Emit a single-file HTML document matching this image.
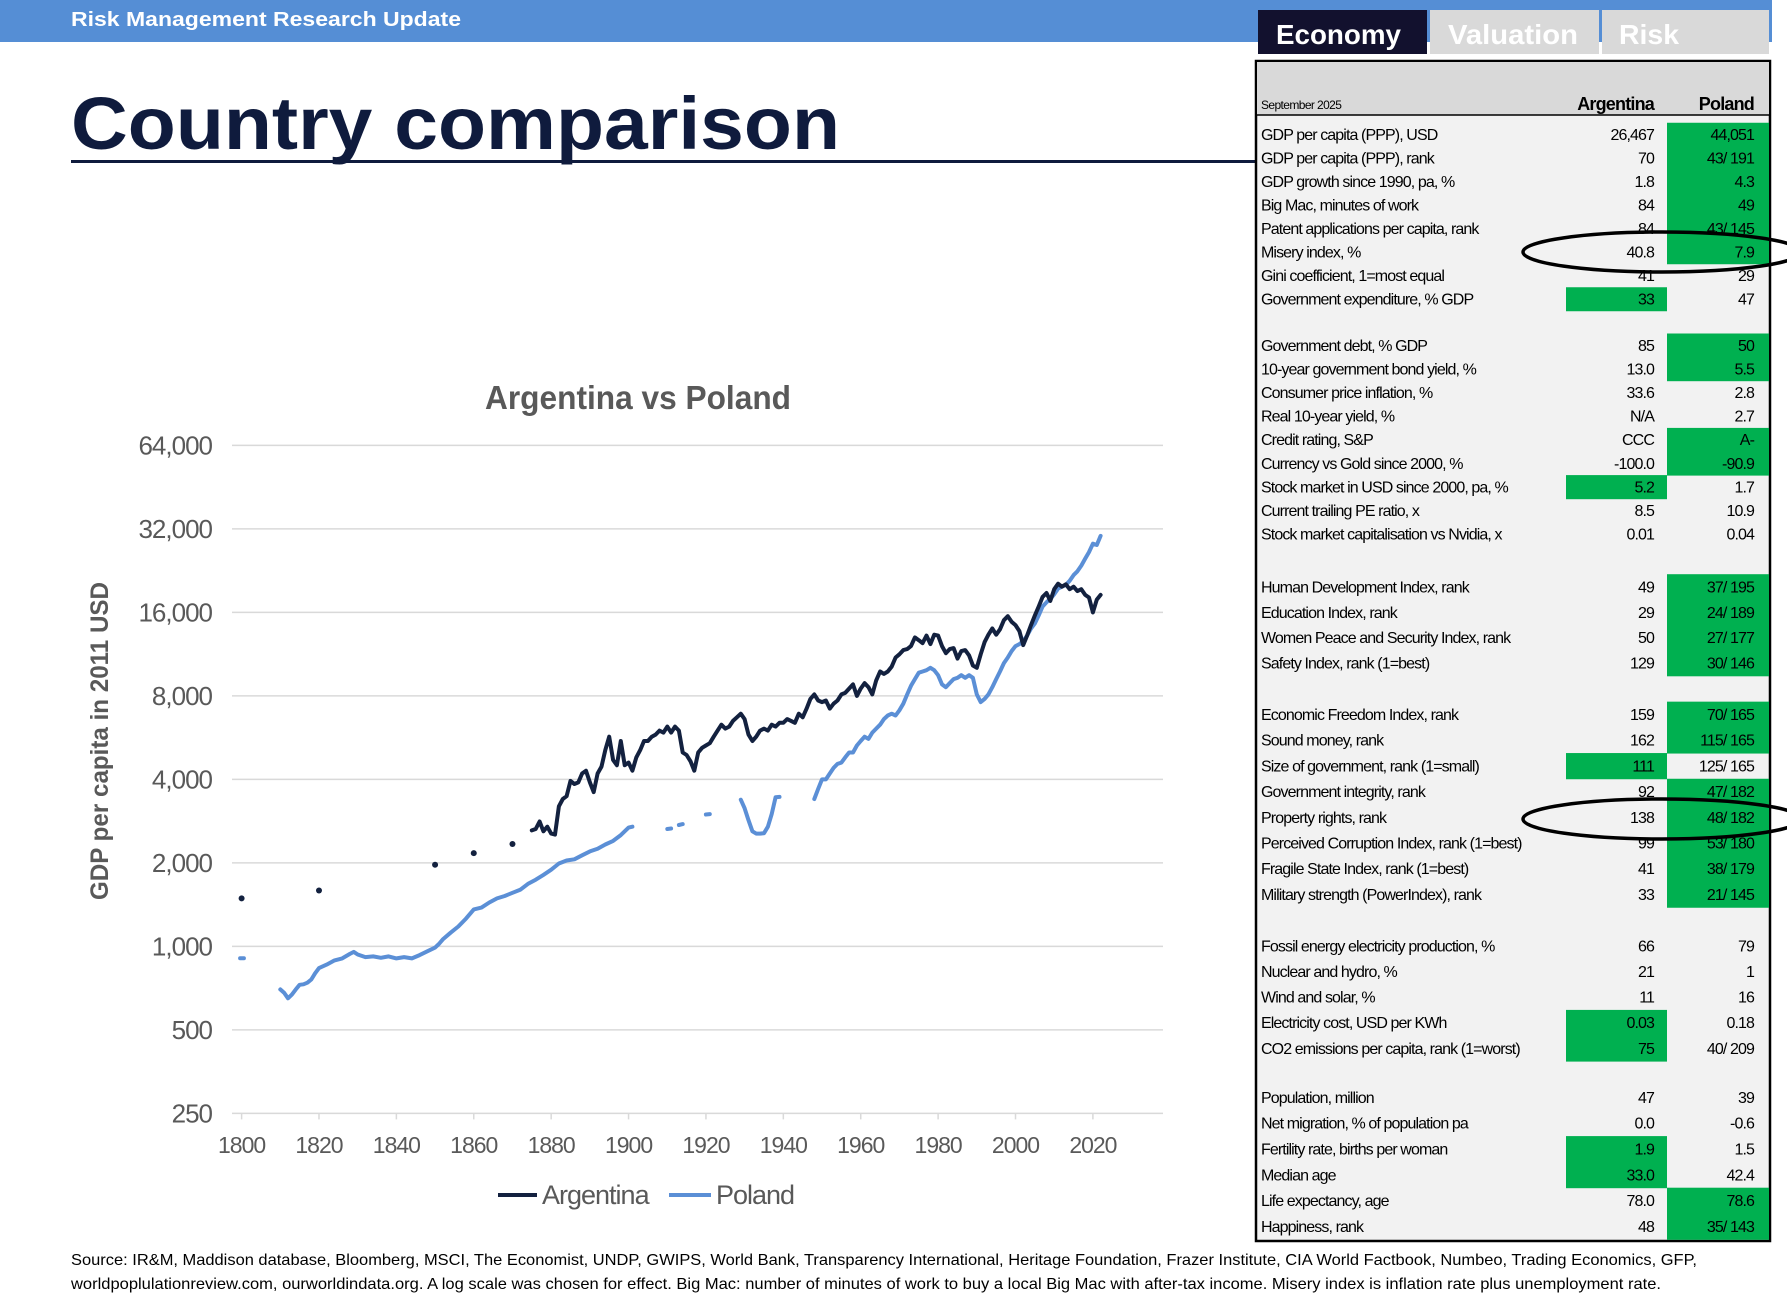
<!DOCTYPE html>
<html><head><meta charset="utf-8"><style>
html,body{margin:0;padding:0;background:#fff;}
svg{display:block;font-family:"Liberation Sans",sans-serif;}
</style></head><body>
<svg id="page" width="1787" height="1305" viewBox="0 0 1787 1305">
<rect x="0" y="0" width="1772" height="42" fill="#558ED5"/>
<text x="71" y="26" font-size="20" font-weight="bold" fill="#fff" textLength="390" lengthAdjust="spacingAndGlyphs">Risk Management Research Update</text>
<text x="71" y="149" font-size="74" font-weight="bold" fill="#0F1B3D" textLength="769" lengthAdjust="spacingAndGlyphs">Country comparison</text>
<rect x="71" y="160" width="1186" height="3" fill="#0F1B3D"/>
<g>
<rect x="1258" y="10" width="169" height="44" fill="#12112E"/>
<text x="1276" y="44" font-size="28" font-weight="bold" fill="#fff" textLength="125" lengthAdjust="spacingAndGlyphs">Economy</text>
<rect x="1430" y="10" width="169" height="44" fill="#D9D9D9"/>
<text x="1448" y="44" font-size="28" font-weight="bold" fill="#fff" textLength="130" lengthAdjust="spacingAndGlyphs">Valuation</text>
<rect x="1602" y="10" width="167" height="44" fill="#D9D9D9"/>
<text x="1619" y="44" font-size="28" font-weight="bold" fill="#fff" textLength="60" lengthAdjust="spacingAndGlyphs">Risk</text>
</g>
<g id="table">
<rect x="1256" y="61" width="514" height="1180" fill="#F2F2F2" stroke="#000" stroke-width="2.5"/>
<rect x="1257" y="62" width="512" height="53" fill="#D9D9D9"/>
<line x1="1257" y1="115" x2="1769" y2="115" stroke="#000" stroke-width="1.5"/>
<text x="1261" y="109" font-size="12" fill="#000" letter-spacing="-0.6">September 2025</text>
<text x="1654" y="110" font-size="18" font-weight="bold" text-anchor="end" letter-spacing="-0.8">Argentina</text>
<text x="1754" y="110" font-size="18" font-weight="bold" text-anchor="end" letter-spacing="-0.8">Poland</text>
</g>
<g id="chart">
<text x="638" y="409" font-size="33" font-weight="bold" fill="#595959" text-anchor="middle" textLength="306" lengthAdjust="spacingAndGlyphs">Argentina vs Poland</text>
<text transform="translate(108,741) rotate(-90)" font-size="25" font-weight="bold" fill="#595959" text-anchor="middle" textLength="318" lengthAdjust="spacingAndGlyphs">GDP per capita in 2011 USD</text>
<g id="grid"></g><g id="marks"></g>
<g>
<line x1="498" y1="1195" x2="537" y2="1195" stroke="#13213F" stroke-width="4"/>
<text x="542" y="1204" font-size="27" fill="#595959" letter-spacing="-1">Argentina</text>
<line x1="669" y1="1195" x2="711" y2="1195" stroke="#5B8FD6" stroke-width="4"/>
<text x="716" y="1204" font-size="27" fill="#595959" letter-spacing="-1">Poland</text>
</g>
</g>
<g>
<ellipse cx="1662" cy="252" rx="139" ry="20" fill="none" stroke="#000" stroke-width="3.5"/>
<ellipse cx="1662" cy="819" rx="139" ry="20" fill="none" stroke="#000" stroke-width="3.5"/>
</g>
<text x="71" y="1265" font-size="16" fill="#000" textLength="1626" lengthAdjust="spacingAndGlyphs">Source: IR&amp;M, Maddison database, Bloomberg, MSCI, The Economist, UNDP, GWIPS, World Bank, Transparency International, Heritage Foundation, Frazer Institute, CIA World Factbook, Numbeo, Trading Economics, GFP,</text>
<text x="71" y="1289" font-size="16" fill="#000" textLength="1590" lengthAdjust="spacingAndGlyphs">worldpoplulationreview.com, ourworldindata.org. A log scale was chosen for effect. Big Mac: number of minutes of work to buy a local Big Mac with after-tax income. Misery index is inflation rate plus unemployment rate.</text>
</svg>
<script>
const NS="http://www.w3.org/2000/svg";
const yTicks=[250,500,1000,2000,4000,8000,16000,32000,64000];
const yTickLabels=["250","500","1,000","2,000","4,000","8,000","16,000","32,000","64,000"];
const xTicks=[1800,1820,1840,1860,1880,1900,1920,1940,1960,1980,2000,2020];
const argYears=[1800,0,1820,0,1850,0,1860,0,1870,0,1875,1876,1877,1878,1879,1880,1881,1882,1883,1884,1885,1886,1887,1888,1889,1890,1891,1892,1893,1894,1895,1896,1897,1898,1899,1900,1901,1902,1903,1904,1905,1906,1907,1908,1909,1910,1911,1912,1913,1914,1915,1916,1917,1918,1919,1920,1921,1922,1923,1924,1925,1926,1927,1928,1929,1930,1931,1932,1933,1934,1935,1936,1937,1938,1939,1940,1941,1942,1943,1944,1945,1946,1947,1948,1949,1950,1951,1952,1953,1954,1955,1956,1957,1958,1959,1960,1961,1962,1963,1964,1965,1966,1967,1968,1969,1970,1971,1972,1973,1974,1975,1976,1977,1978,1979,1980,1981,1982,1983,1984,1985,1986,1987,1988,1989,1990,1991,1992,1993,1994,1995,1996,1997,1998,1999,2000,2001,2002,2003,2004,2005,2006,2007,2008,2009,2010,2011,2012,2013,2014,2015,2016,2017,2018,2019,2020,2021,2022];
const argValues=[1490,null,1590,null,1970,null,2170,null,2340,null,2620,2650,2820,2600,2700,2550,2530,3200,3400,3480,3950,3850,3900,4200,4300,3900,3600,4200,4450,5100,5700,4700,4500,5500,4500,4600,4300,4800,5100,5500,5500,5700,5800,6000,5900,6200,5900,6200,6000,5000,4900,4650,4300,5000,5200,5300,5400,5700,6000,6300,6100,6200,6500,6700,6900,6600,5800,5500,5700,6000,6100,6000,6300,6200,6400,6400,6600,6500,6400,6900,6700,7200,7800,8100,7700,7600,7700,7200,7500,7700,8100,8200,8500,8800,8000,8500,8900,8600,8100,9100,9800,9600,9800,10200,11000,11300,11700,11800,12100,13000,12700,12400,13200,12300,13300,13200,12100,11400,11800,11900,10900,11600,11700,11200,10300,10100,11300,12500,13300,14000,13300,13900,15000,15500,14800,14400,13700,12200,13200,14400,15600,16800,18200,18800,17600,19400,20300,19800,20200,19400,19800,19100,19400,18500,18100,16000,17800,18500];
const polYears=[1799.6,1800.6,0,1810,1811,1812,1813,1814,1815,1816,1817,1818,1819,1820,1822,1824,1826,1828,1829,1830,1832,1834,1836,1838,1840,1842,1844,1846,1848,1850,1851,1852,1854,1856,1858,1860,1862,1864,1866,1868,1870,1872,1874,1876,1878,1880,1882,1884,1886,1888,1890,1892,1894,1896,1898,1900,1901,0,1910,1911,0,1913,1914,0,1920,1921,0,1929,1930,1931,1932,1933,1934,1935,1936,1937,1938,1939,0,1948,1949,1950,1951,1952,1953,1954,1955,1956,1957,1958,1959,1960,1961,1962,1963,1964,1965,1966,1967,1968,1969,1970,1971,1972,1973,1974,1975,1976,1977,1978,1979,1980,1981,1982,1983,1984,1985,1986,1987,1988,1989,1990,1991,1992,1993,1994,1995,1996,1997,1998,1999,2000,2001,2002,2003,2004,2005,2006,2007,2008,2009,2010,2011,2012,2013,2014,2015,2016,2017,2018,2019,2020,2021,2022];
const polValues=[907,907,null,700,680,650,670,700,727,730,740,760,800,835,860,890,905,940,955,935,915,920,910,920,905,915,905,930,960,990,1020,1060,1120,1180,1260,1360,1380,1440,1490,1520,1560,1600,1680,1740,1810,1890,1990,2040,2060,2130,2200,2250,2330,2400,2520,2680,2700,null,2650,2660,null,2740,2760,null,2990,3000,null,3380,3150,2850,2600,2550,2550,2560,2700,3000,3450,3460,null,3400,3700,4000,4000,4200,4400,4550,4600,4800,5000,5000,5300,5500,5700,5600,5900,6100,6300,6600,6800,6900,6800,7100,7500,8100,8700,9200,9700,9800,9900,10100,9900,9500,8800,8600,8900,9200,9300,9500,9300,9500,9300,8100,7600,7800,8100,8600,9200,9800,10500,11000,11600,12100,12300,12600,13200,14000,14600,15600,16800,17400,17900,18600,19500,19800,20100,20800,21800,22500,23600,25000,26400,28300,28000,30200,33000];

const X0=241.6,PXY=(1092.9-241.6)/220,Y250=1113.4,OCT=83.5;
function xs(yr){return X0+(yr-1800)*PXY;}
function ys(v){return Y250-Math.log2(v/250)*OCT;}

const grid=document.getElementById('grid');
yTicks.forEach((t,i)=>{
  const l=document.createElementNS(NS,'line');
  l.setAttribute('x1',232);l.setAttribute('x2',1163);
  l.setAttribute('y1',ys(t));l.setAttribute('y2',ys(t));
  l.setAttribute('stroke','#D9D9D9');l.setAttribute('stroke-width','1.5');
  
  
  grid.appendChild(l);
  const tx=document.createElementNS(NS,'text');
  tx.setAttribute('x',212);tx.setAttribute('y',ys(t)+9);
  tx.setAttribute('text-anchor','end');tx.setAttribute('font-size','26');tx.setAttribute('fill','#595959');tx.setAttribute('letter-spacing','-1');
  tx.textContent=yTickLabels[i];
  
  
  grid.appendChild(tx);
});
xTicks.forEach(t=>{
  const tk=document.createElementNS(NS,'line');
  tk.setAttribute('x1',xs(t));tk.setAttribute('x2',xs(t));tk.setAttribute('y1',Y250);tk.setAttribute('y2',Y250+6);
  tk.setAttribute('stroke','#D9D9D9');tk.setAttribute('stroke-width','1.5');
  
  
  grid.appendChild(tk);
  const tx=document.createElementNS(NS,'text');
  tx.setAttribute('x',xs(t));tx.setAttribute('y',1153);
  tx.setAttribute('text-anchor','middle');tx.setAttribute('font-size','23');tx.setAttribute('fill','#595959');tx.setAttribute('letter-spacing','-1');
  tx.textContent=String(t);
  
  
  grid.appendChild(tx);
});
const marks=document.getElementById('marks');
function drawSeries(years,vals,color,name){
  let seg=[];
  const flush=()=>{
    if(seg.length===1){
      const c=document.createElementNS(NS,'circle');
      c.setAttribute('cx',xs(seg[0][0]));c.setAttribute('cy',ys(seg[0][1]));c.setAttribute('r',3);c.setAttribute('fill',color);
      
      
      marks.appendChild(c);
    }else if(seg.length>1){
      const p=document.createElementNS(NS,'path');
      p.setAttribute('d',seg.map((s,i)=>(i?'L':'M')+xs(s[0]).toFixed(1)+','+ys(s[1]).toFixed(1)).join(''));
      p.setAttribute('fill','none');p.setAttribute('stroke',color);p.setAttribute('stroke-width','4');p.setAttribute('stroke-linejoin','round');p.setAttribute('stroke-linecap','round');
      
      
      marks.appendChild(p);
    }
    seg=[];
  };
  years.forEach((y,i)=>{if(vals[i]==null)flush();else seg.push([y,vals[i]]);});
  flush();
}
drawSeries(polYears,polValues,'#5B8FD6','poland');
drawSeries(argYears,argValues,'#13213F','argentina');

// table
const rowLabels=[
["GDP per capita (PPP), USD","GDP per capita (PPP), rank","GDP growth since 1990, pa, %","Big Mac, minutes of work","Patent applications per capita, rank","Misery index, %","Gini coefficient, 1=most equal","Government expenditure, % GDP"],
["Government debt, % GDP","10-year government bond yield, %","Consumer price inflation, %","Real 10-year yield, %","Credit rating, S&P","Currency vs Gold since 2000, %","Stock market in USD since 2000, pa, %","Current trailing PE ratio, x","Stock market capitalisation vs Nvidia, x"],
["Human Development Index, rank","Education Index, rank","Women Peace and Security Index, rank","Safety Index, rank (1=best)"],
["Economic Freedom Index, rank","Sound money, rank","Size of government, rank (1=small)","Government integrity, rank","Property rights, rank","Perceived Corruption Index, rank (1=best)","Fragile State Index, rank (1=best)","Military strength (PowerIndex), rank"],
["Fossil energy electricity production, %","Nuclear and hydro, %","Wind and solar, %","Electricity cost, USD per KWh","CO2 emissions per capita, rank (1=worst)"],
["Population, million","Net migration, % of population pa","Fertility rate, births per woman","Median age","Life expectancy, age","Happiness, rank"]];
const argCol=[["26,467","70","1.8","84","84","40.8","41","33"],["85","13.0","33.6","N/A","CCC","-100.0","5.2","8.5","0.01"],["49","29","50","129"],["159","162","111","92","138","99","41","33"],["66","21","11","0.03","75"],["47","0.0","1.9","33.0","78.0","48"]];
const polCol=[["44,051","43/ 191","4.3","49","43/ 145","7.9","29","47"],["50","5.5","2.8","2.7","A-","-90.9","1.7","10.9","0.04"],["37/ 195","24/ 189","27/ 177","30/ 146"],["70/ 165","115/ 165","125/ 165","47/ 182","48/ 182","53/ 180","38/ 179","21/ 145"],["79","1","16","0.18","40/ 209"],["39","-0.6","1.5","42.4","78.6","35/ 143"]];
const greenCol=[["P","P","P","P","P","P","","A"],["P","P","","","P","P","A","",""],["P","P","P","P"],["P","P","A","P","P","P","P","P"],["","","","A","A"],["","","A","A","P","P"]];
const groupStart=[134.5,345.3,586.9,714.5,945.9,1097.4];
const groupStep=[23.5,23.6,25.4,25.7,25.6,25.8];
const tbl=document.getElementById('table');
rowLabels.forEach((g,gi)=>{
  g.forEach((lab,ri)=>{
    const cy=groupStart[gi]+ri*groupStep[gi],h=groupStep[gi];
    const gr=greenCol[gi][ri];
    if(gr){
      const r=document.createElementNS(NS,'rect');
      r.setAttribute('x',gr==='A'?1566:1667);r.setAttribute('width',gr==='A'?101:102);
      r.setAttribute('y',cy-h/2);r.setAttribute('height',h+0.5);r.setAttribute('fill','#00B050');
      
      
      tbl.appendChild(r);
    }
    const mk=(x,anchor,txt,nm)=>{
      const t=document.createElementNS(NS,'text');
      t.setAttribute('x',x);t.setAttribute('y',cy+5.5);t.setAttribute('text-anchor',anchor);
      t.setAttribute('font-size','16');t.setAttribute('letter-spacing','-0.9');t.setAttribute('fill','#000');
      t.textContent=txt;
      
      
      tbl.appendChild(t);
    };
    mk(1261,'start',lab,'row-label');
    mk(1654,'end',argCol[gi][ri],'argentina-value');
    mk(1754,'end',polCol[gi][ri],'poland-value');
  });
});
</script>
</body></html>
